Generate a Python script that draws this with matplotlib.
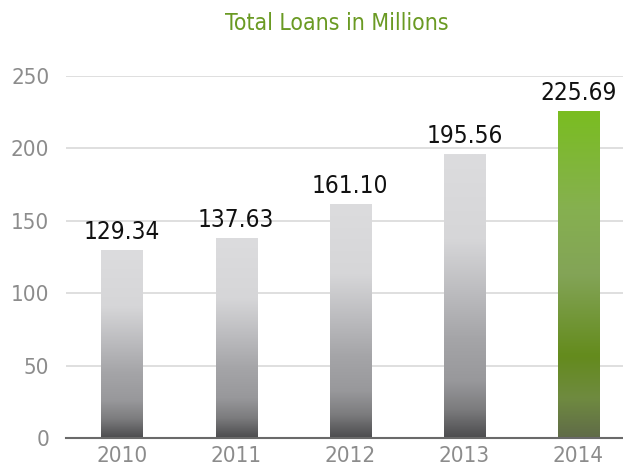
import matplotlib.pyplot as plt
import numpy as np
from matplotlib.colors import LinearSegmentedColormap

years = ['2010', '2011', '2012', '2013', '2014']
loans = [129.34, 137.63, 161.10, 195.56, 225.69]
highlight = [False, False, False, False, True]

plt.rcParams['font.family'] = ['DejaVu Sans']
plt.rcParams['font.stretch'] = 'condensed'

grey_cmap = LinearSegmentedColormap.from_list('grey', [
    (0.0, '#dcdcde'), (0.3, '#d6d6d8'), (0.5, '#bababd'), (0.65, '#a5a5a8'),
    (0.8, '#98989b'), (0.9, '#7c7c7e'), (1.0, '#4c4c4e')])
green_cmap = LinearSegmentedColormap.from_list('green', [
    (0.0, '#7abd21'), (0.3, '#86b050'), (0.5, '#83a457'),
    (0.75, '#648b1d'), (0.88, '#6f8a40'), (1.0, '#606b48')])

fig = plt.figure(figsize=(6.23, 4.70), dpi=100)
ax = fig.add_axes([66 / 623, 32 / 470, 557 / 623, 362 / 470])

x = np.arange(len(years))
width = 0.36
grad = np.linspace(0, 1, 256).reshape(-1, 1)
for xi, val, hl in zip(x, loans, highlight):
    cmap = green_cmap if hl else grey_cmap
    ax.imshow(grad, cmap=cmap, aspect='auto', origin='upper',
              extent=(xi - width / 2, xi + width / 2, 0, val), zorder=2)
    ax.text(xi, val + 4.5, f'{val:.2f}', ha='center', va='bottom',
            fontsize=17.5, color='#111111', zorder=3)

ax.set_xlim(-0.49, 4.39)
ax.set_ylim(0, 250)
ax.set_yticks([0, 50, 100, 150, 200, 250])
ax.set_xticks(x)
ax.set_xticklabels(years)
ax.grid(axis='y', color='#d9d9d9', linewidth=1.2, zorder=0)
ax.set_axisbelow(True)
for s in ['left', 'right', 'top']:
    ax.spines[s].set_visible(False)
ax.spines['bottom'].set_color('#6a6a6a')
ax.spines['bottom'].set_linewidth(1.5)
ax.spines['bottom'].set_zorder(4)
ax.tick_params(axis='both', length=0, labelsize=16, labelcolor='#8c8c8c')
ax.tick_params(axis='y', pad=12)
ax.tick_params(axis='x', pad=6)

fig.text(0.54, 0.95, 'Total Loans in Millions', ha='center', va='center',
         fontsize=16.5, color='#6a9a23')

plt.savefig('out.png', dpi=100)
